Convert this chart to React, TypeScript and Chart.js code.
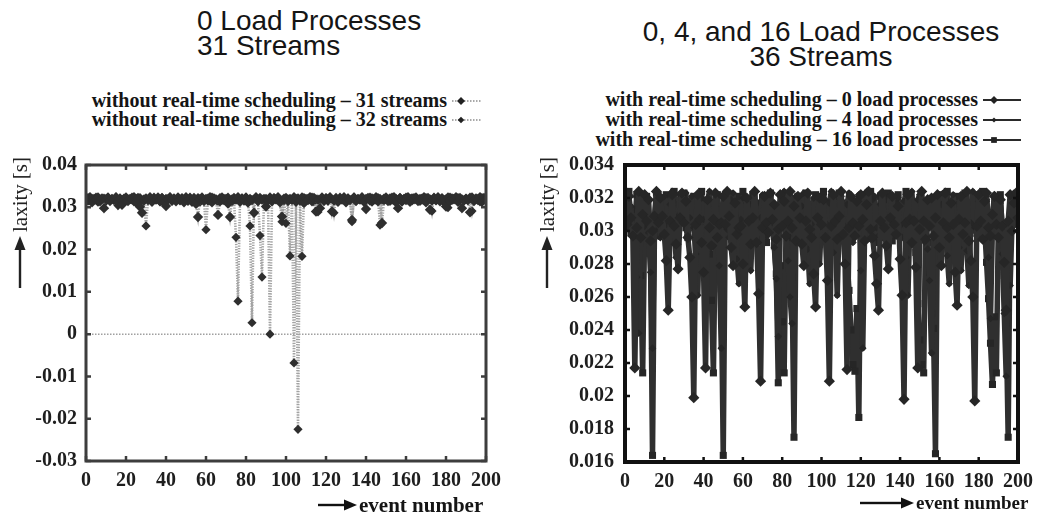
import React, { useEffect, useRef } from "react";
import { Chart, registerables } from "chart.js";

Chart.register(...registerables);

// ---------- data (laxity values in milliseconds, one per event number) ----------
const eventNumbers: number[] = [];
for (let e = 0; e <= 200; e++) eventNumbers.push(e);

const xTickValues = [0, 20, 40, 60, 80, 100, 120, 140, 160, 180, 200];
const leftYTickValues = [0.04, 0.03, 0.02, 0.01, 0, -0.01, -0.02, -0.03];
const rightYTickValues = [0.034, 0.032, 0.03, 0.028, 0.026, 0.024, 0.022, 0.02, 0.018, 0.016];

// left chart: without real-time scheduling
const laxity31Streams = [
  32.2, 31.6, 32.4, 31.2, 32.0, 31.8, 32.3, 31.4, 32.1, 29.8,
  31.9, 32.3, 31.5, 32.0, 31.7, 32.4, 31.3, 32.1, 30.6, 31.8,
  32.3, 31.5, 32.0, 31.9, 32.4, 31.2, 32.2, 30.1, 28.7, 31.6,
  32.1, 31.7, 32.4, 31.3, 32.0, 31.8, 32.3, 31.5, 32.2, 31.1,
  30.3, 31.9, 32.4, 31.6, 32.1, 31.4, 32.3, 31.8, 32.0, 31.2,
  32.4, 31.7, 32.1, 31.3, 32.2, 30.8, 27.7, 31.9, 32.3, 31.5,
  32.0, 31.6, 32.4, 31.2, 32.1, 31.8, 28.2, 31.4, 32.3, 31.7,
  32.0, 30.9, 27.7, 31.5, 32.2, 31.8, 32.4, 31.3, 32.1, 31.6,
  32.3, 31.1, 32.0, 31.7, 28.7, 32.4, 31.5, 32.2, 31.8, 32.0,
  30.2, 31.6, 32.3, 31.4, 32.1, 31.9, 32.4, 31.2, 27.8, 31.7,
  32.2, 31.5, 32.0, 31.8, 32.4, 31.3, 32.1, 31.6, 32.3, 31.0,
  32.0, 31.7, 32.4, 31.4, 32.2, 29.0, 31.8, 29.8, 32.3, 31.5,
  32.1, 31.9, 32.4, 29.0, 31.6, 32.2, 31.3, 32.0, 31.8, 32.4,
  31.2, 32.1, 31.7, 27.0, 32.3, 31.5, 32.0, 31.8, 32.4, 31.3,
  29.6, 32.2, 31.6, 32.1, 31.9, 32.4, 31.4, 32.0, 26.3, 31.7,
  32.3, 31.5, 32.1, 31.8, 32.4, 31.2, 29.8, 32.2, 31.6, 32.0,
  31.7, 32.4, 31.3, 32.1, 31.9, 32.3, 31.5, 32.0, 31.8, 32.4,
  31.2, 32.2, 29.4, 31.6, 32.1, 31.8, 32.4, 31.4, 32.0, 31.7,
  30.2, 32.3, 31.5, 32.1, 31.9, 32.4, 31.3, 32.2, 29.8, 31.6,
  32.0, 31.8, 28.8, 32.3, 31.5, 32.1, 31.7, 32.4, 31.3, 32.2,
  31.8,
];
const laxity32Streams = [
  31.9, 32.3, 31.5, 32.1, 31.7, 32.4, 31.2, 32.0, 31.8, 32.2,
  31.4, 32.3, 31.6, 32.0, 31.9, 32.4, 30.4, 32.1, 31.7, 32.2,
  31.5, 32.0, 31.8, 32.4, 31.3, 32.1, 31.6, 32.3, 31.4, 32.0,
  25.6, 31.7, 32.2, 31.5, 32.4, 31.8, 32.0, 31.3, 32.3, 31.6,
  32.1, 31.9, 32.4, 31.4, 32.0, 31.7, 32.2, 31.5, 32.3, 31.8,
  32.0, 31.4, 32.4, 31.6, 32.1, 31.9, 32.3, 31.2, 32.0, 31.7,
  24.7, 32.2, 31.5, 32.4, 31.8, 32.0, 31.3, 32.3, 31.6, 32.1,
  31.9, 32.4, 31.4, 32.0, 31.7, 22.9, 7.8, 31.5, 32.2, 31.8,
  32.3, 31.6, 25.6, 2.7, 31.9, 32.2, 31.4, 23.3, 13.5, 31.8,
  32.1, 31.6, 0.0, 31.5, 32.3, 31.8, 32.0, 31.4, 26.6, 32.2,
  26.2, 32.0, 18.5, 31.6, -6.8, 32.1, -22.5, 31.8, 18.4, 32.3,
  31.5, 32.1, 31.8, 32.4, 31.3, 32.0, 28.9, 31.7, 32.2, 31.6,
  32.3, 31.4, 32.0, 31.9, 28.7, 32.1, 31.5, 32.4, 31.8, 32.0,
  31.3, 32.2, 31.7, 26.6, 32.4, 31.5, 32.0, 31.8, 32.3, 31.4,
  32.1, 31.9, 32.4, 31.2, 32.0, 31.7, 32.3, 25.8, 31.6, 32.2,
  31.8, 32.0, 31.4, 32.4, 31.6, 32.1, 31.9, 32.3, 31.2, 32.0,
  32.4, 31.7, 32.1, 31.5, 32.3, 31.8, 32.0, 31.4, 32.2, 31.6,
  32.3, 31.9, 32.0, 29.1, 32.4, 31.5, 32.1, 31.7, 32.3, 31.2,
  32.0, 29.9, 32.4, 31.6, 32.1, 31.8, 32.3, 31.4, 32.0, 31.7,
  32.2, 31.5, 32.4, 29.1, 32.0, 31.8, 32.1, 31.3, 32.3, 31.9,
  32.0,
];
const zeroLine = [0, 0];
const zeroLineX = [0, 200];

// right chart: with real-time scheduling, 36 streams
const laxity0Load = [
  32.3, 30.4, 32.1, 30.8, 29.7, 21.7, 30.2, 32.4, 29.6, 31.0,
  32.2, 30.6, 31.9, 29.4, 30.0, 30.9, 32.4, 30.5, 32.0, 30.9,
  29.8, 28.2, 25.2, 30.6, 32.2, 30.3, 29.2, 27.7, 30.8, 32.3,
  30.5, 31.8, 29.6, 28.4, 26.0, 19.9, 30.4, 32.2, 30.7, 29.3,
  27.5, 21.7, 31.9, 30.2, 29.1, 30.7, 32.3, 29.6, 30.4, 30.5,
  32.1, 30.4, 32.4, 30.9, 29.0, 27.9, 31.7, 29.8, 30.2, 30.3,
  28.0, 25.4, 32.0, 30.6, 29.2, 30.8, 32.4, 29.3, 26.2, 20.9,
  30.2, 32.1, 30.5, 29.9, 32.3, 30.7, 31.6, 29.5, 30.1, 32.2,
  30.3, 31.8, 29.7, 30.6, 32.4, 30.2, 31.5, 29.4, 32.1, 30.8,
  29.2, 27.9, 30.6, 32.3, 30.1, 29.6, 27.4, 25.4, 30.8, 32.0,
  30.4, 31.9, 29.6, 27.0, 20.9, 30.3, 32.2, 30.6, 29.5, 30.9,
  32.4, 29.8, 28.0, 21.6, 30.2, 32.1, 30.5, 29.7, 31.8, 30.3,
  32.2, 30.7, 29.4, 31.6, 32.4, 30.1, 29.6, 28.5, 26.8, 25.2,
  30.6, 32.3, 30.2, 29.1, 27.7, 30.8, 32.1, 30.4, 29.8, 31.5,
  28.3, 26.1, 19.8, 30.5, 32.2, 30.7, 29.3, 30.6, 27.8, 21.7,
  30.1, 32.4, 30.6, 29.5, 31.9, 30.3, 32.0, 29.7, 30.8, 32.2,
  29.0, 27.9, 30.5, 32.3, 30.2, 29.6, 31.7, 30.4, 27.5, 25.5,
  30.7, 32.1, 29.8, 30.5, 32.4, 29.4, 28.2, 26.0, 19.7, 30.3,
  32.2, 30.6, 29.5, 31.8, 32.3, 30.2, 29.7, 31.0, 32.1, 30.4,
  29.6, 31.9, 30.3, 28.1, 25.2, 30.6, 32.2, 30.0, 31.7, 32.3,
  30.8,
];
const laxity4Load = [
  31.8, 32.4, 30.2, 31.5, 29.8, 30.6, 27.2, 23.8, 30.5, 32.2,
  30.3, 31.7, 29.9, 27.5, 22.9, 30.1, 31.8, 32.3, 29.6, 30.8,
  32.1, 30.4, 29.5, 31.6, 32.4, 30.0, 28.4, 30.9, 32.2, 30.6,
  31.4, 32.3, 29.7, 30.8, 32.1, 30.2, 28.6, 26.1, 30.4, 32.0,
  30.7, 29.3, 31.8, 32.4, 30.3, 29.1, 31.5, 30.2, 27.9, 22.9,
  30.6, 32.2, 30.1, 29.6, 31.9, 32.3, 30.5, 28.3, 26.8, 30.7,
  32.0, 30.4, 31.7, 29.2, 27.6, 30.6, 32.4, 30.1, 29.5, 30.8,
  32.2, 30.3, 29.7, 31.6, 32.3, 30.5, 29.0, 27.1, 23.6, 30.2,
  31.9, 32.4, 29.6, 28.2, 26.0, 24.4, 30.7, 32.1, 30.3, 29.8,
  31.5, 32.3, 30.6, 28.9, 26.8, 30.4, 32.0, 29.7, 30.1, 28.0,
  30.8, 32.2, 30.5, 29.4, 31.7, 32.4, 28.7, 30.2, 26.1, 30.6,
  32.1, 30.4, 29.9, 31.6, 32.3, 30.0, 29.3, 31.8, 30.7, 32.2,
  27.6, 22.9, 30.3, 32.4, 30.6, 29.5, 31.9, 32.1, 30.2, 29.7,
  31.6, 32.3, 30.4, 29.2, 30.8, 32.2, 30.5, 29.8, 31.7, 32.0,
  30.3, 29.6, 31.8, 28.4, 26.1, 30.7, 32.4, 30.2, 29.5, 31.9,
  32.2, 30.6, 29.4, 31.7, 28.9, 27.0, 22.6, 30.3, 32.1, 30.5,
  29.8, 31.6, 32.3, 30.1, 28.5, 26.8, 30.7, 32.2, 30.4, 29.6,
  29.0, 27.6, 30.8, 32.1, 28.8, 26.7, 30.5, 32.4, 30.2, 29.7,
  31.8, 32.3, 30.6, 29.5, 31.9, 28.4, 24.7, 30.3, 32.2, 30.5,
  29.8, 31.7, 28.6, 25.0, 21.2, 30.4, 26.7, 30.6, 32.3, 31.5,
  32.4,
];
const laxity16Load = [
  32.0, 30.7, 32.4, 29.9, 31.3, 30.5, 32.2, 29.6, 27.3, 21.4,
  30.4, 32.1, 30.8, 28.8, 16.4, 30.2, 32.3, 30.6, 29.7, 31.9,
  30.3, 32.2, 30.9, 29.4, 31.7, 32.4, 30.1, 29.8, 31.6, 30.5,
  32.3, 30.2, 29.6, 31.8, 30.7, 32.1, 30.4, 29.5, 31.9, 32.4,
  30.6, 29.9, 31.5, 28.6, 25.8, 21.4, 30.3, 32.2, 29.2, 26.5,
  16.4, 30.5, 32.3, 30.2, 29.7, 31.8, 30.4, 32.1, 29.5, 30.8,
  32.4, 30.3, 29.8, 31.6, 30.6, 32.2, 30.1, 29.4, 31.7, 30.5,
  32.0, 30.7, 29.3, 31.9, 32.3, 30.2, 29.1, 27.4, 20.8, 27.9,
  24.5, 21.4, 30.6, 32.2, 29.6, 27.2, 17.5, 30.4, 32.1, 30.7,
  29.5, 31.8, 32.3, 30.3, 29.8, 31.6, 30.5, 32.2, 30.1, 29.6,
  31.9, 32.4, 30.7, 29.2, 31.5, 30.4, 32.1, 29.8, 30.6, 32.3,
  30.2, 29.5, 31.7, 28.3, 26.4, 24.0, 21.9, 21.5, 25.3, 18.7,
  30.5, 32.2, 30.3, 29.7, 31.8, 32.4, 30.6, 29.3, 31.5, 30.2,
  32.1, 30.4, 29.6, 31.9, 32.3, 30.7, 29.4, 31.6, 30.1, 32.2,
  30.5, 29.8, 31.7, 32.4, 30.3, 29.2, 31.5, 30.6, 28.7, 25.6,
  23.4, 21.9, 21.4, 30.4, 29.3, 27.5, 25.0, 24.1, 16.5, 30.6,
  32.2, 30.3, 29.7, 31.8, 32.4, 30.5, 29.4, 31.6, 30.2, 32.1,
  30.6, 29.5, 31.9, 32.3, 30.4, 29.8, 31.7, 30.1, 32.2, 30.7,
  29.6, 31.5, 32.4, 30.3, 28.1, 25.9, 23.2, 20.7, 24.8, 21.4,
  30.5, 32.2, 29.9, 27.3, 24.4, 17.5, 30.6, 32.1, 30.4, 32.0,
  30.8,
];

// ---------- helpers ----------
const serif = '"Liberation Serif", "Times New Roman", Times, serif';
const sans = '"Liberation Sans", Arial, Helvetica, sans-serif';

const toPoints = (ms: number[], xs: number[] = eventNumbers) =>
  ms.map((v, i) => ({ x: xs[i], y: v / 1000 }));

const fmtTick = (v: number) => {
  const n = Math.round(v * 1000) / 1000;
  return n === 0 ? "0" : String(n);
};

const framePlugin = {
  id: "frame",
  afterDatasetsDraw(chart: any, _args: any, opts: any) {
    const { ctx, chartArea: a, scales } = chart;
    ctx.save();
    ctx.strokeStyle = opts.color;
    ctx.lineWidth = opts.width;
    ctx.strokeRect(a.left, a.top, a.right - a.left, a.bottom - a.top);
    ctx.lineWidth = opts.tickWidth;
    const L = opts.tickLen;
    ctx.beginPath();
    scales.x.ticks.forEach((t: any) => {
      const px = scales.x.getPixelForValue(t.value);
      ctx.moveTo(px, a.bottom);
      ctx.lineTo(px, a.bottom - L);
      ctx.moveTo(px, a.top);
      ctx.lineTo(px, a.top + L);
    });
    scales.y.ticks.forEach((t: any) => {
      const py = scales.y.getPixelForValue(t.value);
      ctx.moveTo(a.left, py);
      ctx.lineTo(a.left + L, py);
      ctx.moveTo(a.right, py);
      ctx.lineTo(a.right - L, py);
    });
    ctx.stroke();
    ctx.restore();
  },
};

function buildOptions(p: {
  yMin: number; yMax: number; yTicks: number[]; yWidth: number; xHeight: number;
  padRight: number; padTop: number; frameColor: string; frameWidth: number; tickColor: string;
  yPad: number; xPad: number;
}) {
  const font = { family: serif, size: 20, weight: "bold" as const };
  return {
    animation: false,
    responsive: false,
    maintainAspectRatio: false,
    events: [],
    layout: { padding: { left: 0, right: p.padRight, top: p.padTop, bottom: 0 } },
    plugins: {
      legend: { display: false },
      tooltip: { enabled: false },
      title: { display: false },
      frame: { color: p.frameColor, width: p.frameWidth, tickWidth: 2.5, tickLen: 5 },
    },
    scales: {
      x: {
        type: "linear",
        min: 0,
        max: 200,
        afterBuildTicks: (s: any) => { s.ticks = xTickValues.map((v) => ({ value: v })); },
        afterFit: (s: any) => { s.height = p.xHeight; },
        ticks: { font, color: p.tickColor, padding: p.xPad, maxRotation: 0, autoSkip: false, callback: (v: any) => String(v) },
        grid: { display: false, drawTicks: false },
        border: { display: false },
      },
      y: {
        type: "linear",
        min: p.yMin,
        max: p.yMax,
        afterBuildTicks: (s: any) => { s.ticks = p.yTicks.map((v) => ({ value: v })); },
        afterFit: (s: any) => { s.width = p.yWidth; },
        ticks: { font, color: p.tickColor, padding: p.yPad, autoSkip: false, callback: (v: any) => fmtTick(v) },
        grid: { display: false, drawTicks: false },
        border: { display: false },
      },
    },
  };
}

function leftConfig(): any {
  const common = {
    borderColor: "#a3a3a3",
    borderWidth: 2.6,
    borderDash: [1.3, 1.3],
    pointStyle: "rectRot",
    pointBackgroundColor: "#2e2e2e",
    pointBorderColor: "#2e2e2e",
    pointBorderWidth: 0,
    tension: 0,
    fill: false,
  };
  return {
    type: "line",
    data: {
      datasets: [
        { ...common, label: "without real-time scheduling – 31 streams", data: toPoints(laxity31Streams), pointRadius: 5.2 },
        { ...common, label: "without real-time scheduling – 32 streams", data: toPoints(laxity32Streams), pointRadius: 4.6 },
        { label: "zero", data: toPoints(zeroLine, zeroLineX), borderColor: "#a0a0a0", borderWidth: 1.5, borderDash: [1.5, 1.5], pointRadius: 0 },
      ],
    },
    options: buildOptions({
      yMin: -0.03, yMax: 0.04, yTicks: leftYTickValues, yWidth: 86, xHeight: 55,
      padRight: 34, padTop: 25, frameColor: "#3d3d3d", frameWidth: 3, tickColor: "#1e1e1e", yPad: 9, xPad: 8,
    }),
    plugins: [framePlugin],
  };
}

function rightConfig(): any {
  const common = {
    borderColor: "#2f2f2f",
    borderWidth: 5.5,
    borderJoinStyle: "round",
    borderCapStyle: "round",
    pointBackgroundColor: "#262626",
    pointBorderColor: "#262626",
    pointBorderWidth: 0,
    tension: 0,
    fill: false,
  };
  return {
    type: "line",
    data: {
      datasets: [
        { ...common, label: "with real-time scheduling – 0 load processes", data: toPoints(laxity0Load), pointStyle: "rectRot", pointRadius: 5.6 },
        { ...common, label: "with real-time scheduling – 4 load processes", data: toPoints(laxity4Load), pointStyle: "rectRot", pointRadius: 3.8 },
        { ...common, label: "with real-time scheduling – 16 load processes", data: toPoints(laxity16Load), pointStyle: "rect", pointRadius: 5 },
      ],
    },
    options: buildOptions({
      yMin: 0.016, yMax: 0.034, yTicks: rightYTickValues, yWidth: 105, xHeight: 54,
      padRight: 16, padTop: 25, frameColor: "#111111", frameWidth: 4, tickColor: "#1e1e1e", yPad: 11, xPad: 8,
    }),
    plugins: [framePlugin],
  };
}

function PlotCanvas({ left, top, width, height, build }: { left: number; top: number; width: number; height: number; build: () => any }) {
  const ref = useRef<HTMLCanvasElement>(null);
  useEffect(() => {
    const chart = new Chart(ref.current as HTMLCanvasElement, build());
    return () => chart.destroy();
  }, []);
  return (
    <canvas
      ref={ref}
      width={width}
      height={height}
      style={{ position: "absolute", left, top, width, height }}
    />
  );
}

function Text({ x, cy, size, family, bold, children, align = "left" }: any) {
  const style: any = {
    position: "absolute",
    top: cy - size / 2,
    fontSize: size,
    lineHeight: `${size}px`,
    fontFamily: family,
    fontWeight: bold ? "bold" : "normal",
    color: "#151515",
    whiteSpace: "nowrap",
  };
  if (align === "left") style.left = x;
  else if (align === "right") style.right = 1041 - x;
  else { style.left = x; style.transform = "translateX(-50%)"; }
  return <div style={style}>{children}</div>;
}

function LegendSample({ x, cy, w, dotted, marker, r }: any) {
  const h = 14;
  const mx = dotted ? 9 : 11;
  const my = h / 2;
  return (
    <svg width={w} height={h} style={{ position: "absolute", left: x, top: cy - h / 2 }}>
      <line x1={0} y1={my} x2={w} y2={my} stroke={dotted ? "#8d8d8d" : "#2a2a2a"} strokeWidth={dotted ? 1.3 : 2.2} strokeDasharray={dotted ? "1.5 1.5" : undefined} />
      {marker === "diamond" ? (
        <polygon points={`${mx - r},${my} ${mx},${my - r} ${mx + r},${my} ${mx},${my + r}`} fill="#222" />
      ) : (
        <rect x={mx - r * 0.8} y={my - r * 0.8} width={r * 1.6} height={r * 1.6} fill="#222" />
      )}
    </svg>
  );
}

function YAxisTitle({ cx, cy }: { cx: number; cy: number }) {
  const W = 132, H = 24;
  return (
    <div
      style={{
        position: "absolute", left: cx - W / 2, top: cy - H / 2, width: W, height: H,
        transform: "rotate(-90deg)", display: "flex", alignItems: "center",
        fontFamily: serif, fontSize: 21, lineHeight: "24px", color: "#222", whiteSpace: "nowrap",
      }}
    >
      <svg width="52" height="14" viewBox="0 0 52 14">
        <rect x="0" y="5.8" width="40" height="2.4" fill="#222" />
        <polygon points="38,1.5 52,7 38,12.5" fill="#222" />
      </svg>
      <span style={{ marginLeft: 4 }}>laxity</span>
      <span style={{ marginLeft: 5 }}>[s]</span>
    </div>
  );
}

function XAxisTitle({ x, cy, arrowLen, size }: { x: number; cy: number; arrowLen: number; size: number }) {
  return (
    <div style={{ position: "absolute", left: x, top: cy - 10, height: 20, display: "flex", alignItems: "center", whiteSpace: "nowrap" }}>
      <svg width={arrowLen} height="14" viewBox={`0 0 ${arrowLen} 14`}>
        <rect x="0" y="5.8" width={arrowLen - 12} height="2.4" fill="#111" />
        <polygon points={`${arrowLen - 13},1.5 ${arrowLen},7 ${arrowLen - 13},12.5`} fill="#111" />
      </svg>
      <span style={{ marginLeft: 2, fontFamily: serif, fontWeight: "bold", fontSize: size, color: "#151515" }}>event number</span>
    </div>
  );
}

export default function App() {
  return (
    <div style={{ position: "fixed", left: 0, top: 0, width: 1041, height: 516, background: "#ffffff", overflow: "hidden" }}>
      {/* titles */}
      <Text x={197} cy={21} size={28} family={sans}>0 Load Processes</Text>
      <Text x={197} cy={46} size={28} family={sans}>31 Streams</Text>
      <Text x={821} cy={32} size={28} family={sans} align="center">0, 4, and 16 Load Processes</Text>
      <Text x={821} cy={57} size={28} family={sans} align="center">36 Streams</Text>

      {/* legends */}
      <Text x={447} cy={100} size={20} family={serif} bold align="right">without real-time scheduling – 31 streams</Text>
      <LegendSample x={452} cy={101} w={29} dotted marker="diamond" r={4} />
      <Text x={447} cy={119} size={20} family={serif} bold align="right">without real-time scheduling – 32 streams</Text>
      <LegendSample x={452} cy={120} w={29} dotted marker="diamond" r={3.3} />

      <Text x={978} cy={99} size={20} family={serif} bold align="right">with real-time scheduling – 0 load processes</Text>
      <LegendSample x={983} cy={100} w={38} marker="diamond" r={4} />
      <Text x={978} cy={119} size={20} family={serif} bold align="right">with real-time scheduling – 4 load processes</Text>
      <LegendSample x={983} cy={120} w={38} marker="diamond" r={2.6} />
      <Text x={978} cy={139} size={20} family={serif} bold align="right">with real-time scheduling – 16 load processes</Text>
      <LegendSample x={983} cy={140} w={38} marker="square" r={3.6} />

      {/* plots */}
      <PlotCanvas left={0} top={140} width={520} height={376} build={leftConfig} />
      <PlotCanvas left={520} top={140} width={521} height={376} build={rightConfig} />

      {/* axis titles */}
      <YAxisTitle cx={20} cy={222} />
      <YAxisTitle cx={547} cy={222} />
      <XAxisTitle x={318} cy={505} arrowLen={39} size={21} />
      <XAxisTitle x={860} cy={503} arrowLen={54} size={19} />
    </div>
  );
}
